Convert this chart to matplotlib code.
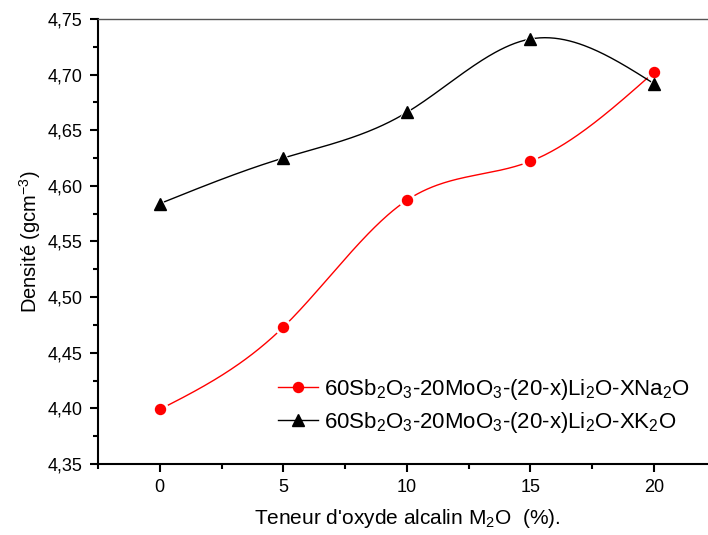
import numpy as np
import matplotlib
matplotlib.use('Agg')
import matplotlib.pyplot as plt
from matplotlib.ticker import MultipleLocator, FuncFormatter

plt.rcParams['font.family'] = ['Liberation Sans', 'DejaVu Sans']
plt.rcParams['mathtext.fontset'] = 'custom'
plt.rcParams['mathtext.rm'] = 'Liberation Sans'
plt.rcParams['mathtext.it'] = 'Liberation Sans'

# teneur en oxyde alcalin (%)
teneur = [0, 5, 10, 15, 20]
dens_na = [4.399, 4.473, 4.587, 4.622, 4.702]
dens_k = [4.584, 4.625, 4.666, 4.732, 4.692]

lab_na = r'60Sb$_2$O$_3$-20MoO$_3$-(20-x)Li$_2$O-XNa$_2$O'
lab_k = r'60Sb$_2$O$_3$-20MoO$_3$-(20-x)Li$_2$O-XK$_2$O'


def spline_nat(x, y, npts=300):
    # spline cubique naturelle, juste pour tracer la courbe lisse
    x = np.asarray(x, float)
    y = np.asarray(y, float)
    n = len(x)
    h = np.diff(x)
    A = np.zeros((n, n))
    b = np.zeros(n)
    A[0, 0] = 1
    A[-1, -1] = 1
    for i in range(1, n - 1):
        A[i, i - 1] = h[i - 1]
        A[i, i] = 2 * (h[i - 1] + h[i])
        A[i, i + 1] = h[i]
        b[i] = 3 * ((y[i + 1] - y[i]) / h[i] - (y[i] - y[i - 1]) / h[i - 1])
    c = np.linalg.solve(A, b)
    xs = np.linspace(x[0], x[-1], npts)
    ys = np.zeros_like(xs)
    for k, xv in enumerate(xs):
        i = min(np.searchsorted(x, xv, side='right') - 1, n - 2)
        d = xv - x[i]
        bb = (y[i + 1] - y[i]) / h[i] - h[i] * (2 * c[i] + c[i + 1]) / 3
        dd = (c[i + 1] - c[i]) / (3 * h[i])
        ys[k] = y[i] + bb * d + c[i] * d ** 2 + dd * d ** 3
    return xs, ys


fig = plt.figure(figsize=(7.08, 5.35), dpi=100)
W, H = 708, 535
ax = fig.add_axes([98 / W, (H - 464) / H, 617.5 / W, 445 / H])

for dens, col, mk, ms, lab in [(dens_na, 'red', 'o', 7.2, lab_na),
                               (dens_k, 'black', '^', 8, lab_k)]:
    xs, ys = spline_nat(teneur, dens)
    ax.plot(xs, ys, color=col, lw=1, zorder=2)
    ax.plot(teneur, dens, ls='none', marker=mk, ms=ms + 4, color='white', zorder=3)
    ax.plot(teneur, dens, ls='none', marker=mk, ms=ms, color=col, zorder=4)
    ax.plot([], [], color=col, lw=1, marker=mk, ms=ms, label=lab)

ax.set_xlim(-2.5, 22.5)
ax.set_ylim(4.35, 4.75)
ax.xaxis.set_major_locator(MultipleLocator(5))
ax.xaxis.set_minor_locator(MultipleLocator(2.5))
ax.yaxis.set_major_locator(MultipleLocator(0.05))
ax.yaxis.set_minor_locator(MultipleLocator(0.025))
ax.yaxis.set_major_formatter(FuncFormatter(lambda v, p: ('%.2f' % v).replace('.', ',')))

ax.tick_params(which='both', direction='out', top=False, right=False, labelsize=13, width=1.5)
ax.tick_params(which='major', length=6, pad=5)
ax.tick_params(which='minor', length=3.5)
ax.spines['left'].set_linewidth(1.5)
ax.spines['bottom'].set_linewidth(1.5)
ax.spines['top'].set_linewidth(1)
ax.spines['top'].set_color('#555555')
ax.spines['right'].set_visible(False)

ax.set_xlabel(r"Teneur d'oxyde alcalin M$_2$O  (%).", fontsize=15, labelpad=8)
ax.set_ylabel(r'Densité (gcm$^{-3}$)', fontsize=14.5, labelpad=3)

ax.legend(loc='center left', bbox_to_anchor=(278 / W, 1 - 406 / H), bbox_transform=fig.transFigure,
          frameon=False, fontsize=16, handlelength=1.8, handletextpad=0.25, labelspacing=0.35,
          borderpad=0, borderaxespad=0)

fig.savefig('out.png', dpi=100)
